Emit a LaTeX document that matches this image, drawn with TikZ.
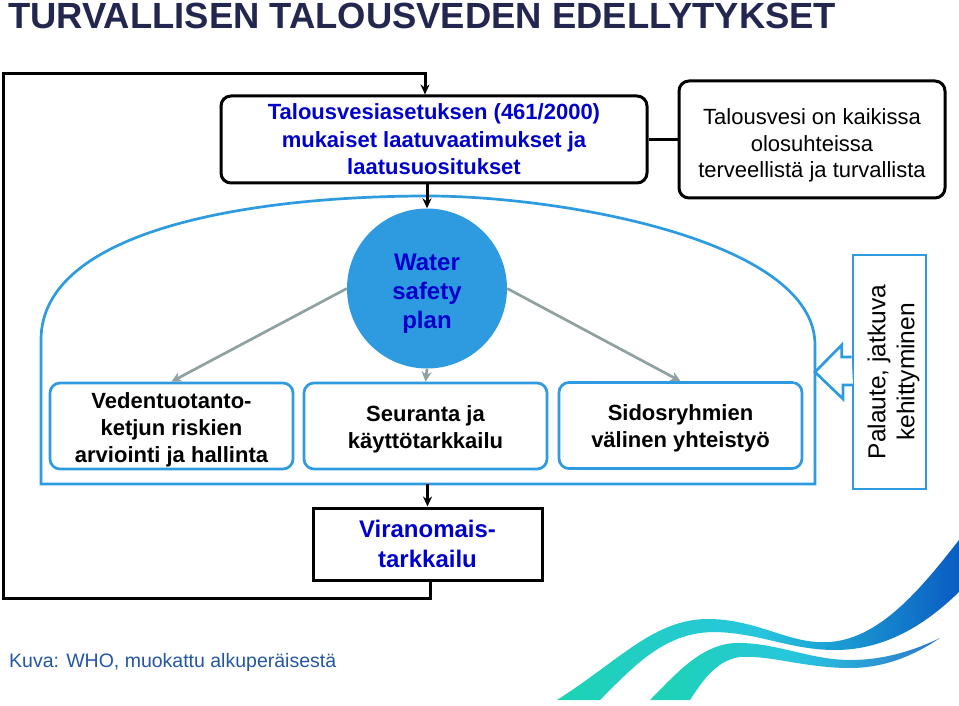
\documentclass[tikz,border=0pt]{standalone}
\usepackage{fontspec}
\setmainfont{Liberation Sans}
\usetikzlibrary{arrows.meta}
\definecolor{tvnavy}{HTML}{23264F}
\definecolor{tvtext}{HTML}{0000CC}
\definecolor{tvblue}{HTML}{2E9BE0}
\definecolor{tvgray}{HTML}{8FA1A1}
\definecolor{tvcap}{HTML}{2356A6}
\definecolor{wvgreen}{HTML}{1DD3B2}
\definecolor{wvcyan}{HTML}{27C6DE}
\definecolor{wvblue}{HTML}{0A5CC2}
\newcommand{\fsz}[2]{\fontsize{#1}{#2}\selectfont}
\newcommand{\tvtop}[1]{\rule{0pt}{#1}}

\begin{document}
\begin{tikzpicture}[
  x=1pt, y=-1pt,
  reqbox/.style  = {rectangle, rounded corners=10pt, draw=black, line width=3pt,
                    align=center, inner sep=0pt},
  wspbox/.style  = {rectangle, rounded corners=10pt, draw=tvblue, line width=2.7pt,
                    align=center, inner sep=0pt, minimum width=243, minimum height=86,
                    font=\bfseries\fsz{22}{27}},
  flow/.style    = {-{Stealth[length=10pt,width=9pt]}, draw=black, line width=3pt,
                    line join=miter},
  spoke/.style   = {-{Stealth[length=10pt,width=10pt]}, draw=tvgray, line width=2.7pt},
  blueline/.style= {draw=tvblue, line width=2.7pt, line join=miter},
  lab/.style     = {anchor=base west, inner sep=0pt},
]
\useasboundingbox (0,0) rectangle (959,706);
\node[lab, text=tvnavy, font=\bfseries\fsz{36.4}{40}] (title) at (8,29)
  {TURVALLISEN TALOUSVEDEN EDELLYTYKSET};
\node[reqbox, minimum width=426, minimum height=87, text=tvtext,
      font=\bfseries\fsz{22}{27.5}] (law) at (434,139.5)
  {Talousvesiasetuksen (461/2000)\\mukaiset laatuvaatimukset ja\\laatusuositukset};
\node[reqbox, minimum width=266, minimum height=117, font=\fsz{22}{26.5}]
  (goal) at (812,139.5)
  {\tvtop{28pt}Talousvesi on kaikissa\\olosuhteissa\\terveellistä ja turvallista};
\draw[draw=black, line width=3pt] (law.east) -- (goal.west);
\draw[blueline] (41,484) -- (41,340) .. controls (41,230) and (250,196) .. (428,196)
  .. controls (560,196) and (815,240) .. (815,345) -- (815,484) -- cycle;
\coordinate (archbot) at (427.5,484);
\coordinate (archr) at (815,372);
\node[circle, fill=tvblue, minimum size=160, inner sep=0pt, align=center,
      text=tvtext, font=\bfseries\fsz{24}{29}] (wsp) at (427,288.5)
  {\tvtop{26pt}Water\\safety\\plan};
\node[wspbox] (risk) at (171.5,426)
  {\tvtop{23pt}Vedentuotanto-\\ketjun riskien\\arviointi ja hallinta};
\node[wspbox] (mon)  at (425.5,426) {\tvtop{22pt}Seuranta ja\\käyttötarkkailu};
\node[wspbox] (coop) at (680.5,425.5) {\tvtop{22pt}Sidosryhmien\\välinen yhteistyö};
\draw[spoke] (wsp.west)  -- (risk.north);
\draw[spoke] (wsp.south) -- (mon.north);
\draw[spoke] (wsp.east)  -- (coop.north);
\node[draw=tvblue, line width=2.7pt, rotate=90, minimum width=234, minimum height=73,
      inner sep=0pt, align=center, font=\fsz{24.5}{29}] (fb) at (889.5,372)
  {\tvtop{26pt}Palaute, jatkuva\\kehittyminen};
\draw[blueline, fill=white] (fb.north) ++(0,-15) -- ++(-10,0) -- ++(0,-12) -- (archr)
  -- ++(28,27) -- ++(0,-14) -- ++(10,0);
\node[draw=black, line width=3pt, minimum width=229, minimum height=72, inner sep=0pt,
      align=center, text=tvtext, font=\bfseries\fsz{24}{30}] (vira) at (427.5,544)
  {Viranomais-\\tarkkailu};
\draw[flow] (law.south -| wsp.north) -- (wsp.north);
\draw[flow] (archbot) -- (vira.north);
\coordinate (loopbl) at (3,598);
\coordinate (looptl) at (3,74);
\draw[flow] ([xshift=3pt]vira.south) |- (loopbl) -- (looptl) -| ([xshift=-9pt]law.north);
\node[lab, text=tvcap, font=\fsz{19.5}{24}] (cap) at (9,667)
  {Kuva: WHO, muokattu alkuperäisestä};
\shade[left color=wvgreen, right color=wvblue, middle color=wvcyan]
  (557,700) .. controls (620,660) and (655,618) .. (710,619)
  .. controls (760,620) and (790,645) .. (830,642)
  .. controls (880,638) and (920,590) .. (959,540) -- (959,592)
  .. controls (925,625) and (885,650) .. (835,650)
  .. controls (790,650) and (760,633) .. (715,632)
  .. controls (665,632) and (635,665) .. (600,700) -- cycle;
\shade[left color=wvgreen, right color=wvblue!85, middle color=wvcyan]
  (650,700) .. controls (675,675) and (700,645) .. (735,643)
  .. controls (775,642) and (810,660) .. (850,660)
  .. controls (885,660) and (915,650) .. (940,638)
  .. controls (915,655) and (885,668) .. (850,668)
  .. controls (805,668) and (770,655) .. (740,657)
  .. controls (715,660) and (700,685) .. (690,700) -- cycle;
\end{tikzpicture}
\end{document}
